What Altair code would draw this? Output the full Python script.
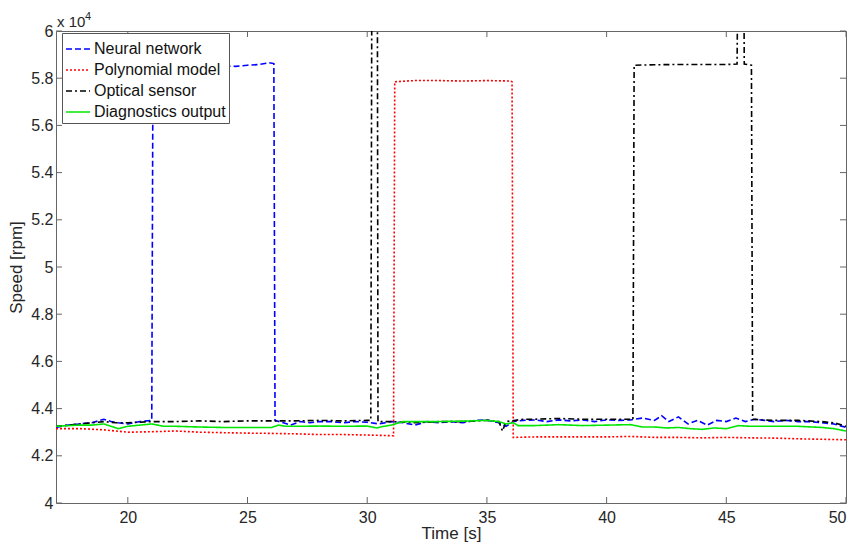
import altair as alt
import pandas as pd

# Speed values in units of 10^4 rpm, time in seconds
nn_t = [17, 17.5, 18, 18.5, 19, 19.3, 19.6, 20, 20.5, 21, 21.05, 21.5, 22, 22.5, 23, 23.5, 24, 24.5, 25, 25.5,
        25.9, 26.1, 26.15, 26.5, 26.8, 27.2, 27.6, 28, 28.5, 29, 29.5, 30, 30.5, 31, 31.5, 32, 32.5, 33, 33.5, 34,
        34.5, 35, 35.5, 35.8, 36.1, 36.5, 37, 37.5, 38, 38.5, 39, 39.5, 40, 40.5, 41, 41.5, 42, 42.3, 42.6, 43,
        43.4, 43.8, 44.2, 44.6, 45, 45.4, 45.8, 46.2, 46.6, 47, 47.5, 48, 48.5, 49, 49.5, 50]
nn_v = [4.32, 4.33, 4.335, 4.34, 4.355, 4.345, 4.34, 4.335, 4.345, 4.35, 5.845, 5.845, 5.848, 5.845, 5.85, 5.848, 5.852, 5.85, 5.855, 5.858,
        5.866, 5.862, 4.35, 4.34, 4.33, 4.345, 4.34, 4.345, 4.345, 4.34, 4.345, 4.342, 4.335, 4.345, 4.34, 4.33, 4.345, 4.34, 4.345, 4.34,
        4.35, 4.352, 4.34, 4.325, 4.345, 4.35, 4.352, 4.345, 4.352, 4.348, 4.352, 4.345, 4.352, 4.35, 4.352, 4.36, 4.35, 4.37, 4.345, 4.365,
        4.335, 4.35, 4.33, 4.35, 4.345, 4.36, 4.345, 4.355, 4.35, 4.345, 4.35, 4.345, 4.345, 4.34, 4.335, 4.32]

poly_t = [17, 18, 19, 19.5, 20, 21, 22, 23, 24, 25, 26, 27, 28, 29, 30, 31.1, 31.15, 32, 33, 34,
          35, 36, 36.05, 36.1, 37, 38, 39, 40, 41, 42, 43, 44, 45, 46, 47, 48, 49, 50]
poly_v = [4.315, 4.315, 4.31, 4.305, 4.30, 4.302, 4.305, 4.30, 4.298, 4.296, 4.295, 4.293, 4.29, 4.29, 4.288, 4.285, 5.785, 5.79, 5.79, 5.788,
          5.79, 5.788, 5.785, 4.278, 4.28, 4.28, 4.28, 4.28, 4.282, 4.278, 4.278, 4.276, 4.278, 4.276, 4.275, 4.272, 4.27, 4.268]

opt_t = [17, 17.5, 18, 18.5, 19, 19.5, 20, 21, 22, 23, 24, 25, 26, 27, 28, 29, 30, 30.15, 30.2, 30.42,
         30.45, 31, 32, 33, 34, 35, 35.5, 35.65, 35.8, 36.5, 37, 38, 39, 40, 41.1, 41.15, 42, 43, 44, 45,
         45.45, 45.5, 45.72, 45.75, 46.05, 46.1, 46.5, 47, 48, 49, 49.5, 50]
opt_v = [4.325, 4.33, 4.335, 4.34, 4.345, 4.34, 4.34, 4.345, 4.345, 4.348, 4.345, 4.348, 4.348, 4.348, 4.35, 4.348, 4.35, 4.35, 6.5, 6.5,
         4.345, 4.345, 4.34, 4.345, 4.345, 4.35, 4.345, 4.305, 4.345, 4.355, 4.355, 4.358, 4.355, 4.355, 4.355, 5.855, 5.857, 5.858, 5.858, 5.858,
         5.86, 6.5, 6.5, 5.86, 5.855, 4.355, 4.352, 4.35, 4.35, 4.345, 4.34, 4.325]

diag_t = [17, 17.5, 18, 18.5, 19, 19.3, 19.6, 20, 20.5, 21, 21.5, 22, 23, 24, 25, 26, 26.3, 26.6, 27, 28,
          29, 30, 30.4, 30.7, 31, 31.5, 32, 33, 34, 35, 35.5, 35.8, 36.1, 36.3, 37, 38, 39, 40, 41, 41.5,
          42, 42.5, 43, 43.5, 44, 44.5, 45, 45.5, 46, 47, 48, 49, 49.5, 50]
diag_v = [4.325, 4.328, 4.33, 4.33, 4.335, 4.325, 4.315, 4.325, 4.33, 4.335, 4.325, 4.325, 4.322, 4.32, 4.32, 4.32, 4.33, 4.325, 4.325, 4.326,
          4.325, 4.326, 4.318, 4.325, 4.33, 4.345, 4.345, 4.345, 4.347, 4.35, 4.345, 4.335, 4.34, 4.328, 4.328, 4.332, 4.328, 4.33, 4.332, 4.322,
          4.322, 4.318, 4.32, 4.315, 4.312, 4.318, 4.315, 4.328, 4.325, 4.325, 4.325, 4.32, 4.315, 4.305]

series_names = ["Neural network", "Polynomial model", "Optical sensor", "Diagnostics output"]
series_colors = ["#0000ff", "#ff0000", "#000000", "#00e600"]
series_dash = [[6, 3], [2, 2], [6, 3, 2, 3], [1, 0]]

x_ticks = [20, 25, 30, 35, 40, 45, 50]
y_ticks = [4.0, 4.2, 4.4, 4.6, 4.8, 5.0, 5.2, 5.4, 5.6, 5.8, 6.0]

W, H = 790, 472
FONT = "Liberation Sans"
TXT = "#262626"

rows = []
for name, ts, vs in zip(series_names, [nn_t, poly_t, opt_t, diag_t], [nn_v, poly_v, opt_v, diag_v]):
    for t, v in zip(ts, vs):
        rows.append({"Time": t, "Speed": v, "Series": name})
df = pd.DataFrame(rows)

xscale = alt.Scale(domain=[17, 50], nice=False, zero=False)
yscale = alt.Scale(domain=[4, 6], nice=False, zero=False)

xaxis = alt.Axis(values=x_ticks, ticks=False, domain=False, grid=False,
                 labelFont=FONT, labelFontSize=16, labelColor=TXT, labelPadding=6,
                 title="Time [s]", titleFont=FONT, titleFontSize=17, titleFontWeight="normal",
                 titleColor=TXT, titlePadding=0)
yaxis = alt.Axis(values=y_ticks, format="~g", ticks=False, domain=False, grid=False,
                 labelFont=FONT, labelFontSize=16, labelColor=TXT, labelPadding=3,
                 title="Speed [rpm]", titleFont=FONT, titleFontSize=17, titleFontWeight="normal",
                 titleColor=TXT, titlePadding=5)

leg = dict(orient="none", legendX=6, legendY=2, title=None,
           fillColor="white", strokeColor="#555", padding=3,
           labelFont=FONT, labelFontSize=16, labelColor="#111",
           symbolType="stroke", symbolSize=576, symbolStrokeWidth=1.6,
           rowPadding=-1, labelOffset=3, labelLimit=300)

lines = alt.Chart(df).mark_line(strokeWidth=1.6, clip=True).encode(
    x=alt.X("Time:Q", scale=xscale, axis=xaxis),
    y=alt.Y("Speed:Q", scale=yscale, axis=yaxis),
    color=alt.Color("Series:N", scale=alt.Scale(domain=series_names, range=series_colors),
                    legend=alt.Legend(**leg)),
    strokeDash=alt.StrokeDash("Series:N", scale=alt.Scale(domain=series_names, range=series_dash),
                              legend=alt.Legend(**leg)),
    order=alt.Order("Time:Q"),
)

xt = pd.DataFrame({"Time": x_ticks})
yt = pd.DataFrame({"Speed": y_ticks})
TICK = "#666"
tick_bottom = alt.Chart(xt).mark_rule(color=TICK, strokeWidth=1).encode(
    x=alt.X("Time:Q", scale=xscale, axis=xaxis), y=alt.value(H), y2=alt.value(H - 6))
tick_top = alt.Chart(xt).mark_rule(color=TICK, strokeWidth=1).encode(
    x=alt.X("Time:Q", scale=xscale, axis=xaxis), y=alt.value(0), y2=alt.value(6))
tick_left = alt.Chart(yt).mark_rule(color=TICK, strokeWidth=1).encode(
    y=alt.Y("Speed:Q", scale=yscale, axis=yaxis), x=alt.value(0), x2=alt.value(6))
tick_right = alt.Chart(yt).mark_rule(color=TICK, strokeWidth=1).encode(
    y=alt.Y("Speed:Q", scale=yscale, axis=yaxis), x=alt.value(W), x2=alt.value(W - 6))

one = pd.DataFrame({"k": [1]})
exp_base = alt.Chart(one).mark_text(text="x 10", align="left", baseline="alphabetic",
                                    font=FONT, fontSize=15, color=TXT).encode(
    x=alt.value(1), y=alt.value(-4))
exp_sup = alt.Chart(one).mark_text(text="4", align="left", baseline="alphabetic",
                                   font=FONT, fontSize=11, color=TXT).encode(
    x=alt.value(29), y=alt.value(-11))

chart = alt.layer(lines, tick_bottom, tick_top, tick_left, tick_right, exp_base, exp_sup).properties(
    width=W, height=H,
    autosize=alt.AutoSizeParams(type="none"),
    padding={"left": 56, "top": 31, "right": 10, "bottom": 42},
    background="white",
).configure_view(stroke="#666", strokeWidth=1)

chart.save("out.html", embed_options={"renderer": "svg", "actions": False})
